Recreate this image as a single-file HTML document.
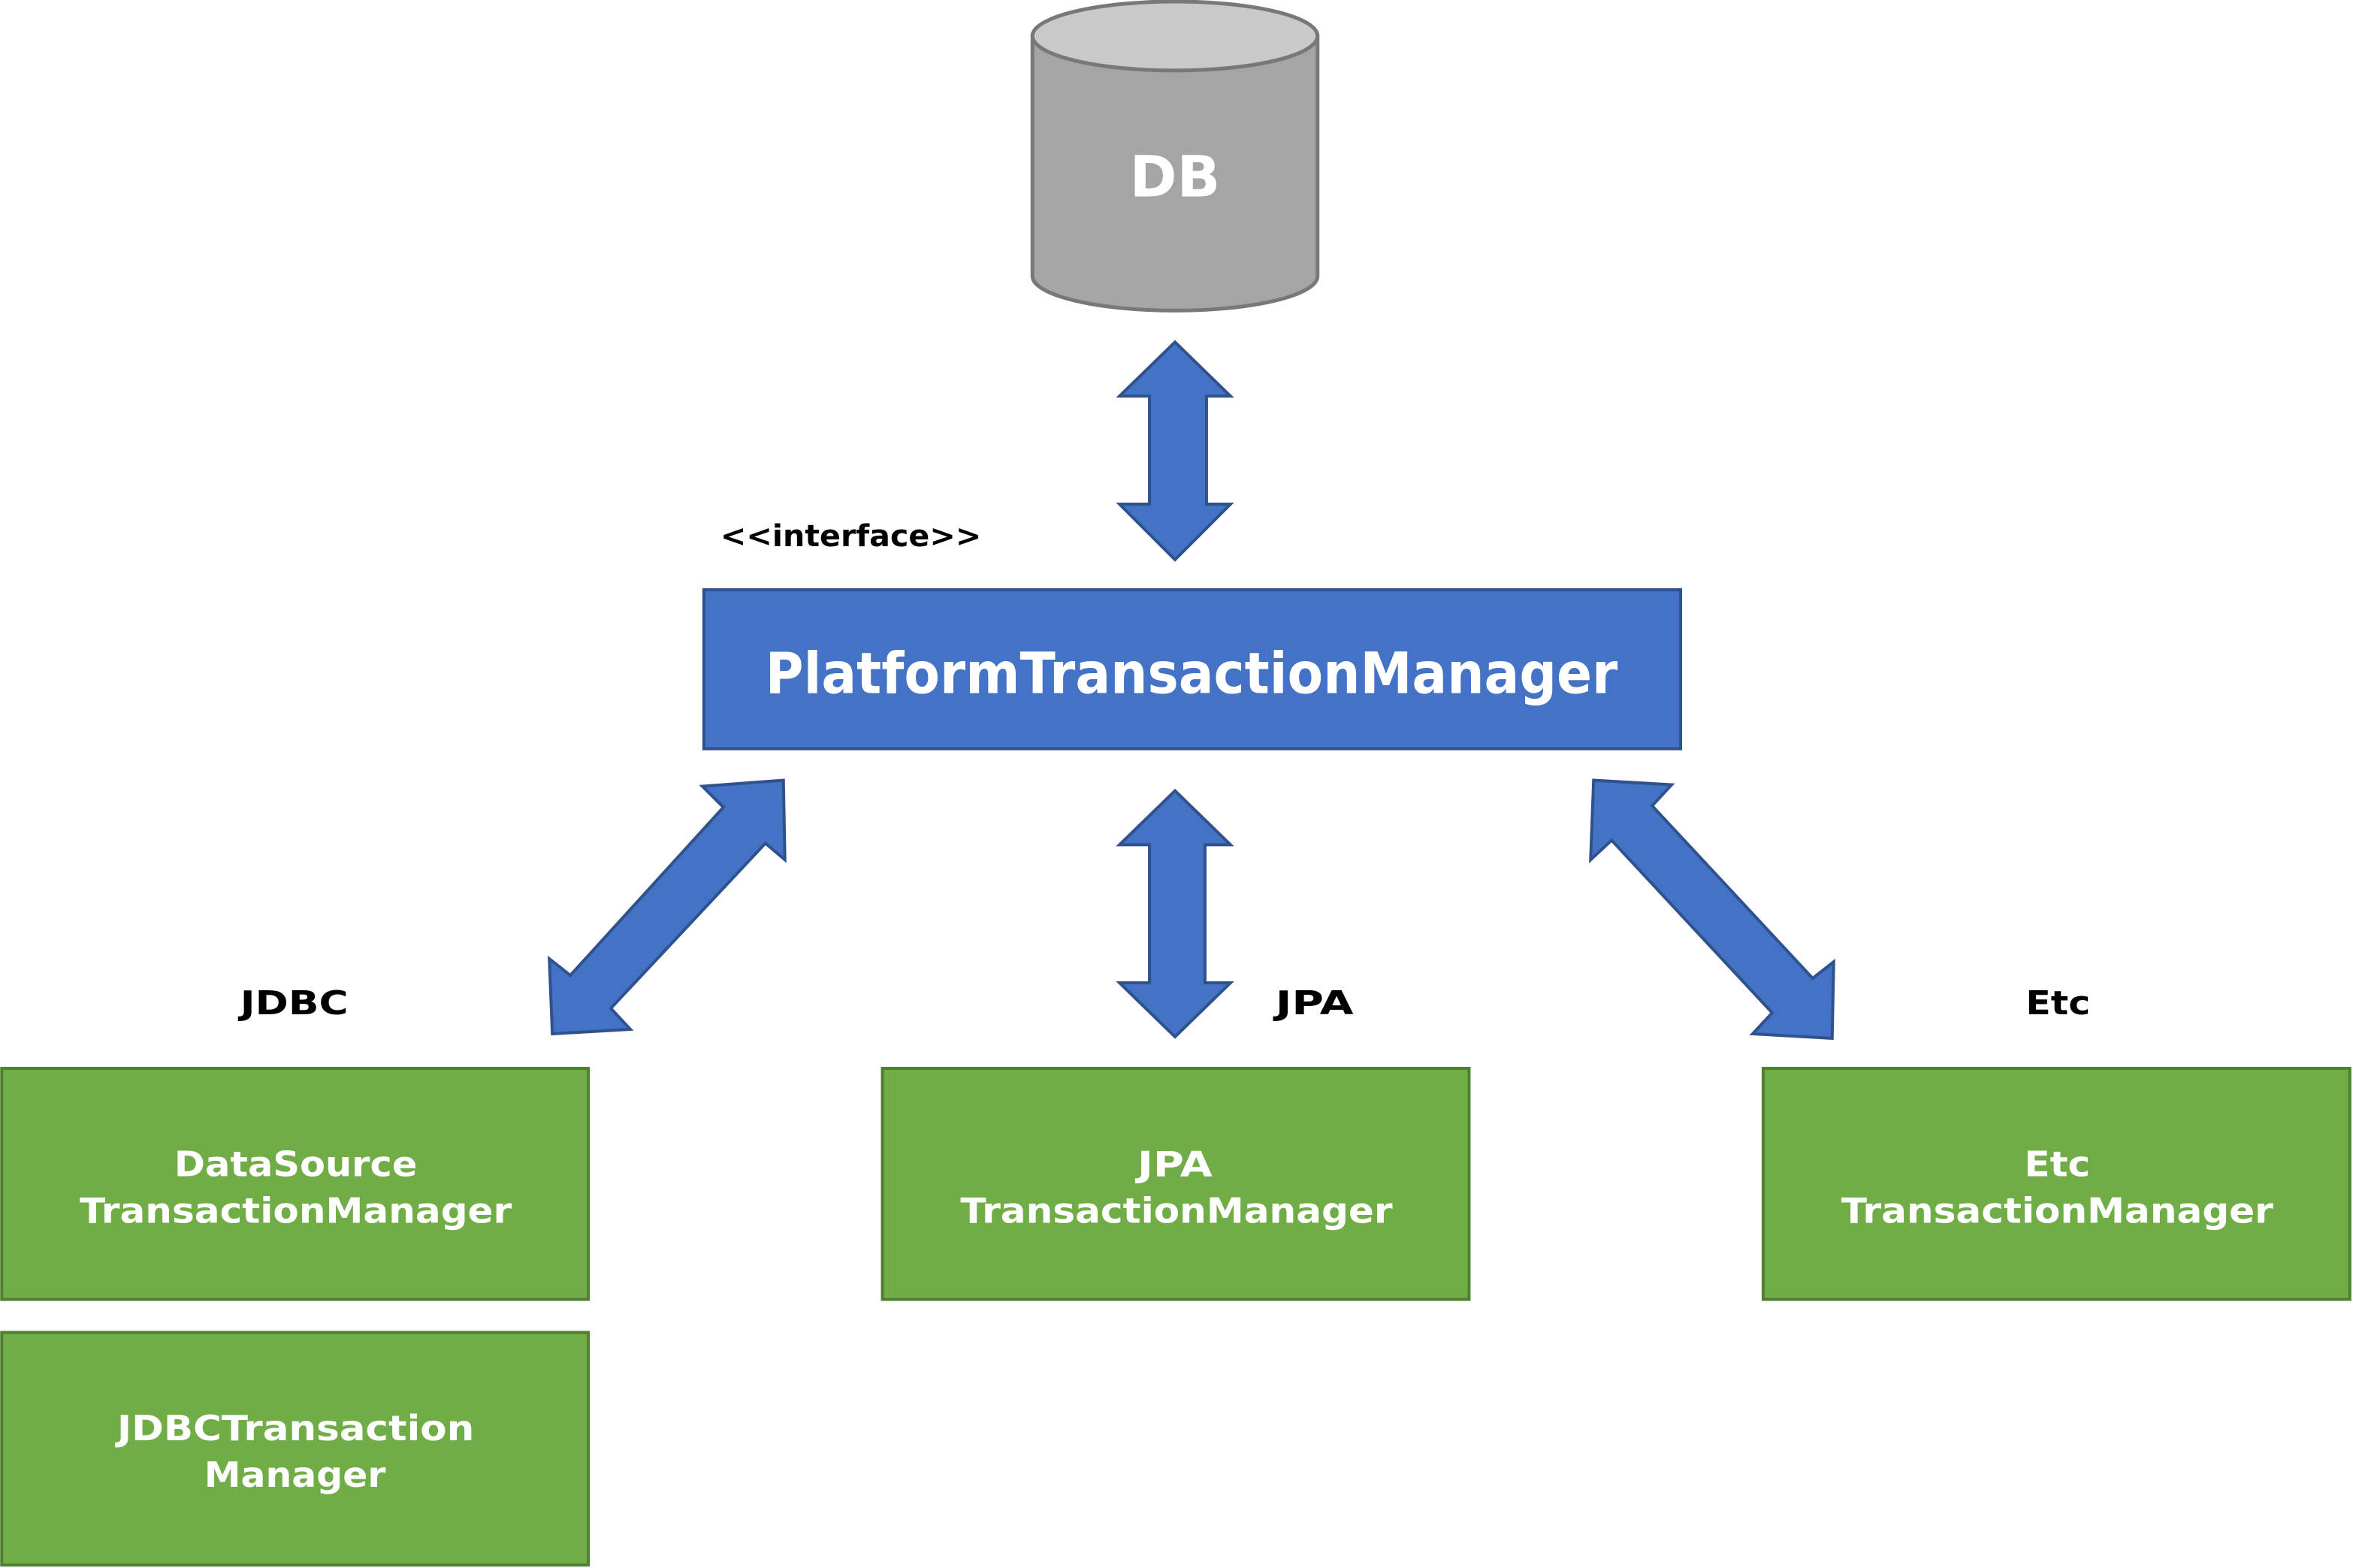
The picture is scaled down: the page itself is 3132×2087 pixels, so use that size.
<!DOCTYPE html>
<html><head><meta charset="utf-8"><style>
html,body{margin:0;padding:0;background:#fff;}
svg{display:block;}
text{font-family:"DejaVu Sans","Liberation Sans",sans-serif;font-weight:bold;}
</style></head><body>
<svg width="3132" height="2087" viewBox="0 0 1568 1045" xmlns="http://www.w3.org/2000/svg">
<path d="M688,24 L688,184 A95,23 0 0 0 878,184 L878,24 Z" fill="#A5A5A5" stroke="#787878" stroke-width="2.5"/>
<ellipse cx="783" cy="24" rx="95" ry="23" fill="#C9C9C9" stroke="#787878" stroke-width="2.5"/>
<text x="783" y="131" font-size="38" fill="#fff" text-anchor="middle">DB</text>
<polygon points="783,228 820,264 804,264 804,336 820,336 783,373 746,336 766,336 766,264 746,264" fill="#4472C4" stroke="#2F528F" stroke-width="2"/>
<text x="480" y="364" font-size="20" fill="#000" textLength="174" lengthAdjust="spacingAndGlyphs">&lt;&lt;interface&gt;&gt;</text>
<rect x="469" y="393" width="651" height="106" fill="#4472C4" stroke="#2F528F" stroke-width="2"/>
<text x="510" y="462" font-size="38" fill="#fff" textLength="568" lengthAdjust="spacingAndGlyphs">PlatformTransactionManager</text>
<polygon points="783,527 820,563 803,563 803,655 820,655 783,691 746,655 766,655 766,563 746,563" fill="#4472C4" stroke="#2F528F" stroke-width="2"/>
<polygon points="522,520 523,573 510,562 407,672 420,686 368,689 366,639 380,650 482,538 468,524" fill="#4472C4" stroke="#2F528F" stroke-width="2"/>
<polygon points="1062,520 1114,523 1101,537 1208,652 1222,641 1221,692 1168,689 1181,675 1074,560 1060,573" fill="#4472C4" stroke="#2F528F" stroke-width="2"/>
<text x="160" y="676" font-size="22" fill="#000" textLength="72" lengthAdjust="spacingAndGlyphs">JDBC</text>
<text x="850" y="676" font-size="22" fill="#000" textLength="52" lengthAdjust="spacingAndGlyphs">JPA</text>
<text x="1350" y="676" font-size="22" fill="#000" textLength="43" lengthAdjust="spacingAndGlyphs">Etc</text>
<g fill="#70AD47" stroke="#507E32" stroke-width="2">
<rect x="1" y="712" width="391" height="154"/>
<rect x="588" y="712" width="391" height="154"/>
<rect x="1175" y="712" width="391" height="154"/>
<rect x="1" y="888" width="391" height="155"/>
</g>
<g fill="#fff" font-size="23" lengthAdjust="spacingAndGlyphs">
<text x="116" y="784" textLength="162" lengthAdjust="spacingAndGlyphs">DataSource</text>
<text x="53" y="815" textLength="288" lengthAdjust="spacingAndGlyphs">TransactionManager</text>
<text x="758" y="784" textLength="50" lengthAdjust="spacingAndGlyphs">JPA</text>
<text x="640" y="815" textLength="288" lengthAdjust="spacingAndGlyphs">TransactionManager</text>
<text x="1349" y="784" textLength="44" lengthAdjust="spacingAndGlyphs">Etc</text>
<text x="1227" y="815" textLength="288" lengthAdjust="spacingAndGlyphs">TransactionManager</text>
<text x="78" y="960" textLength="238" lengthAdjust="spacingAndGlyphs">JDBCTransaction</text>
<text x="136" y="991" textLength="121" lengthAdjust="spacingAndGlyphs">Manager</text>
</g>
</svg>
</body></html>
